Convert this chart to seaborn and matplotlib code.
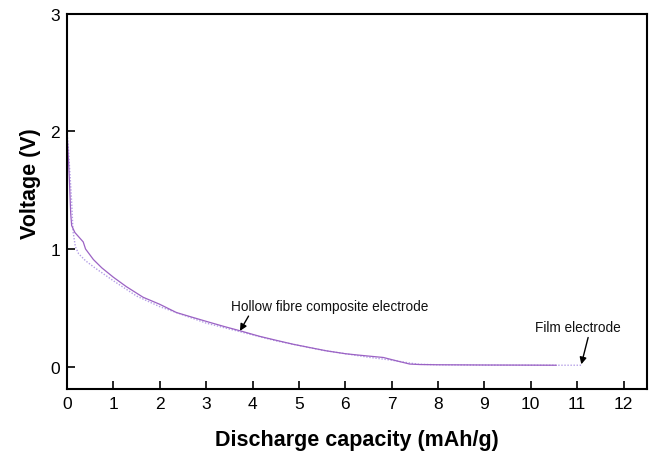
import matplotlib
matplotlib.use("Agg")
import matplotlib.pyplot as plt
import seaborn as sns
import pandas as pd

# Hollow fibre composite electrode (solid)
hollow_x = [0, 0.02, 0.05, 0.08, 0.1, 0.17, 0.35, 0.4, 0.57, 0.75, 1.0, 1.28, 1.64, 2.0, 2.36, 2.7,
            3.08, 3.4, 3.73, 4.16, 4.5, 4.88, 5.2, 5.6, 6.0, 6.24, 6.5, 6.82, 7.1, 7.39, 7.6, 8.0,
            9.0, 10.0, 10.55]
hollow_y = [1.98, 1.85, 1.6, 1.3, 1.2, 1.14, 1.06, 1.0, 0.91, 0.84, 0.76, 0.68, 0.59, 0.53, 0.46, 0.42,
            0.376, 0.34, 0.305, 0.257, 0.225, 0.19, 0.165, 0.134, 0.11, 0.10, 0.09, 0.078, 0.05, 0.022,
            0.018, 0.016, 0.014, 0.013, 0.012]

# Film electrode (dotted)
film_x = [0, 0.03, 0.07, 0.1, 0.13, 0.18, 0.25, 0.4, 0.6, 1.0, 1.5, 2.0, 2.5, 3.0, 3.5, 4.0, 4.5,
          5.0, 5.5, 6.0, 6.5, 7.0, 7.4, 7.6, 8.0, 9.0, 10.0, 10.6, 11.1]
film_y = [2.0, 1.85, 1.6, 1.4, 1.15, 1.02, 0.96, 0.9, 0.84, 0.73, 0.6, 0.51, 0.44, 0.37, 0.32, 0.27,
          0.22, 0.18, 0.14, 0.11, 0.08, 0.055, 0.03, 0.02, 0.016, 0.013, 0.012, 0.012, 0.012]

x_ticks = list(range(0, 13))
y_ticks = [0, 1, 2, 3]

sns.set_style("white")
plt.rcParams['font.family'] = ['Liberation Sans', 'DejaVu Sans']

fig = plt.figure(figsize=(6.55, 4.52), dpi=100)
ax = fig.add_axes([67/655, 1 - 390/452, (646.7 - 67)/655, (390 - 14.7)/452])

df_h = pd.DataFrame({"x": hollow_x, "y": hollow_y})
df_f = pd.DataFrame({"x": film_x, "y": film_y})
sns.lineplot(data=df_f, x="x", y="y", ax=ax, sort=False, estimator=None,
             color="#b49ee6", linewidth=1.0, linestyle=(0, (1, 1.2)))
sns.lineplot(data=df_h, x="x", y="y", ax=ax, sort=False, estimator=None,
             color="#9b62c4", linewidth=0.9)

ax.set_xlim(0, 12.5)
ax.set_ylim(-0.19, 3.0)
ax.set_xticks(x_ticks)
ax.set_yticks(y_ticks)
ax.tick_params(direction="in", length=6, width=1.2, labelsize=12.5, colors="black",
               bottom=True, left=True, top=False, right=False, pad=5)
for s in ax.spines.values():
    s.set_color("black")
    s.set_linewidth(1.5)

ax.set_xlabel("Discharge capacity (mAh/g)", fontsize=15.5, fontweight="bold", color="black",
              labelpad=13)
ax.set_ylabel("Voltage (V)", fontsize=15.5, fontweight="bold", color="black")
ax.yaxis.set_label_coords(-0.045, 0.55)

ax.annotate("Hollow fibre composite electrode", xy=(3.73, 0.304), xytext=(3.53, 0.517),
            fontsize=9.8, va="center", ha="left", color="#111111",
            arrowprops=dict(arrowstyle="-|>", color="black", lw=1.0, mutation_scale=10,
                            shrinkA=0, shrinkB=0, relpos=(0.1, 0.0)))
ax.annotate("Film electrode", xy=(11.09, 0.02), xytext=(10.09, 0.335),
            fontsize=9.8, va="center", ha="left", color="#111111",
            arrowprops=dict(arrowstyle="-|>", color="black", lw=1.0, mutation_scale=10,
                            shrinkA=0, shrinkB=0, relpos=(0.63, 0.0)))

fig.savefig("out.png", dpi=100)
